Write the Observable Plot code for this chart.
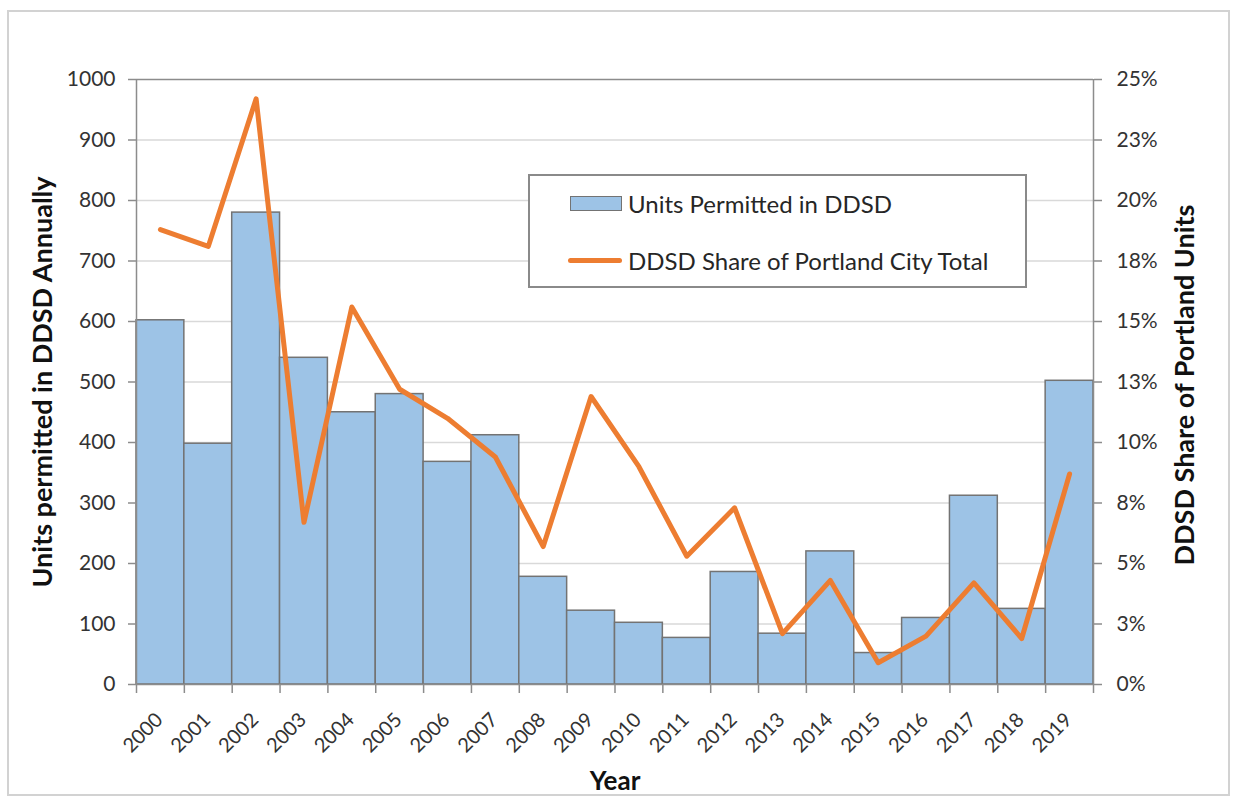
<!DOCTYPE html>
<html>
<head>
<meta charset="utf-8">
<script src="https://cdn.jsdelivr.net/npm/d3@7"></script>
<script src="https://cdn.jsdelivr.net/npm/@observablehq/plot@0.6"></script>
<style>
  body { margin: 0; background: #fff; font-family: Lato, "Open Sans", sans-serif; }
  #chart { position: relative; width: 1233px; height: 799px; overflow: hidden; }
  #chart svg { position: absolute; left: 0; top: 0; }
  #border { position: absolute; left: 7px; top: 10px; width: 1219px; height: 782px; border: 2px solid #d2d2d2; pointer-events: none; }
  #legend { position: absolute; left: 528px; top: 174px; width: 495px; height: 110px; border: 2px solid #8a8a8a; background: #fff; color: #262626; font-size: 24px; }
  .item { position: absolute; left: 40px; height: 28px; display: flex; align-items: center; }
  .item span { margin-left: 6px; white-space: nowrap; }
  .sw-bar { width: 50px; height: 13px; background: #9dc3e6; border: 1.5px solid #737373; }
  .sw-line { width: 54px; height: 5px; background: #ed7d31; border-radius: 3px; margin-left: -2px; }
</style>
</head>
<body>
<div id="chart">
  <div id="border"></div>
</div>
<script>
// Annual housing units permitted in the DDSD, and the DDSD share of all units permitted citywide
const years = [2000, 2001, 2002, 2003, 2004, 2005, 2006, 2007, 2008, 2009,
               2010, 2011, 2012, 2013, 2014, 2015, 2016, 2017, 2018, 2019];
const unitsPermitted = [602, 398, 780, 540, 450, 480, 368, 412, 178, 122,
                        102, 77, 186, 84, 220, 52, 110, 312, 125, 502];
const sharePercent = [18.8, 18.1, 24.2, 6.7, 15.6, 12.2, 11.0, 9.4, 5.7, 11.9,
                      9.0, 5.3, 7.3, 2.1, 4.3, 0.9, 2.0, 4.2, 1.9, 8.7];

// Left axis (units) and right axis (share) tick values and labels
const unitTicks = [0, 100, 200, 300, 400, 500, 600, 700, 800, 900, 1000];
const shareTicks = [0, 2.5, 5, 7.5, 10, 12.5, 15, 17.5, 20, 22.5, 25];
const shareTickLabels = ["0%", "3%", "5%", "8%", "10%", "13%", "15%", "18%", "20%", "23%", "25%"];

const UNITS_MAX = 1000;
const SHARE_MAX = 25;
// The share series lives on the right-hand axis, which spans the same height as the units axis
const shareToUnits = s => s * UNITS_MAX / SHARE_MAX;

const rows = years.map((year, i) => ({year, units: unitsPermitted[i], share: sharePercent[i]}));
const yearBoundaries = d3.range(years[0] - 0.5, years[years.length - 1] + 1, 1);

const axisGray = "#8c8c8c";
const labelGray = "#333333";

const plot = Plot.plot({
  width: 1233,
  height: 799,
  marginLeft: 136,
  marginRight: 140,
  marginTop: 79,
  marginBottom: 115,
  style: {fontFamily: "Lato, 'Open Sans', sans-serif", fontSize: "21px", color: labelGray, background: "transparent"},
  x: {type: "linear", domain: [years[0] - 0.5, years[years.length - 1] + 0.5], axis: null},
  y: {domain: [0, UNITS_MAX], axis: null},
  marks: [
    Plot.gridY(unitTicks.slice(1, -1), {stroke: "#d9d9d9", strokeOpacity: 1, strokeWidth: 1.5}),
    Plot.rectY(rows, {
      x1: d => d.year - 0.5,
      x2: d => d.year + 0.5,
      y: "units",
      fill: "#9dc3e6",
      stroke: "#737373",
      strokeWidth: 1.5
    }),
    Plot.ruleY([UNITS_MAX], {stroke: axisGray, strokeWidth: 1.5}),
    Plot.ruleY([0], {stroke: axisGray, strokeWidth: 1.5}),
    Plot.ruleX(d3.extent(yearBoundaries), {stroke: axisGray, strokeWidth: 1.5}),
    Plot.line(rows, {
      x: "year",
      y: d => shareToUnits(d.share),
      stroke: "#ed7d31",
      strokeWidth: 5,
      strokeLinejoin: "round",
      strokeLinecap: "round"
    }),
    Plot.axisY(unitTicks, {
      anchor: "left", label: null, tickSize: 8, tickPadding: 13,
      tickFormat: d => String(d),
      stroke: axisGray, strokeWidth: 1.5, fill: labelGray, fontSize: 21
    }),
    Plot.axisY(shareTicks.map(shareToUnits), {
      anchor: "right", label: null, tickSize: 8, tickPadding: 15,
      tickFormat: (d, i) => shareTickLabels[i],
      stroke: axisGray, strokeWidth: 1.5, fill: labelGray, fontSize: 21
    }),
    Plot.axisX(yearBoundaries, {
      anchor: "bottom", label: null, tickSize: 9, tickFormat: () => "",
      stroke: axisGray, strokeWidth: 1.5
    }),
    Plot.text(years, {
      x: d => d,
      frameAnchor: "bottom",
      text: d => String(d),
      rotate: -45,
      textAnchor: "end",
      lineAnchor: "middle",
      dx: -1,
      dy: 32,
      fontSize: 20,
      fill: labelGray
    }),
    Plot.text(["Units permitted in DDSD Annually"], {
      frameAnchor: "left", textAnchor: "middle", dx: -93, rotate: -90,
      fontSize: 27, fontWeight: "bold", fill: "#111"
    }),
    Plot.text(["DDSD Share of Portland Units"], {
      frameAnchor: "right", textAnchor: "middle", dx: 92, dy: 3, rotate: -90,
      fontSize: 27, fontWeight: "bold", fill: "#111"
    }),
    Plot.text(["Year"], {
      frameAnchor: "bottom", dy: 105,
      fontSize: 26, fontWeight: "bold", fill: "#111"
    })
  ]
});

const chart = document.getElementById("chart");
chart.insertBefore(plot, chart.firstChild);

// Legend box drawn over the plot area
const legend = document.createElement("div");
legend.id = "legend";
legend.innerHTML = `
  <div class="item" style="top:13px"><div class="sw-bar"></div><span>Units Permitted in DDSD</span></div>
  <div class="item" style="top:70px"><div class="sw-line"></div><span>DDSD Share of Portland City Total</span></div>`;
chart.appendChild(legend);
</script>
</body>
</html>
